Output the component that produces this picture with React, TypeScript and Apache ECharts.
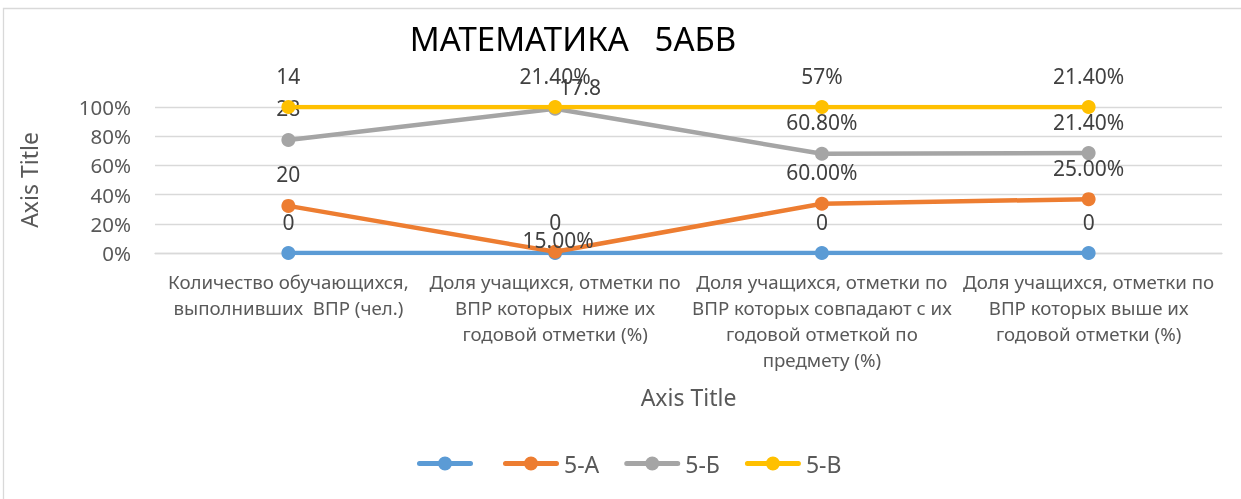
import React, { useEffect, useRef } from "react";
import * as echarts from "echarts";

const categories = [
  "Количество обучающихся,\nвыполнивших  ВПР (чел.)",
  "Доля учащихся, отметки по\nВПР которых  ниже их\nгодовой отметки (%)",
  "Доля учащихся, отметки по\nВПР которых совпадают с их\nгодовой отметкой по\nпредмету (%)",
  "Доля учащихся, отметки по\nВПР которых выше их\nгодовой отметки (%)",
];
const seriesNames = ["\u200b", "5-А", "5-Б", "5-В"];
const seriesBlank = [0, 0, 0, 0];
const series5A = [20, 0.15, 0.6, 0.25];
const series5B = [28, 17.8, 0.608, 0.214];
const series5V = [14, 0.214, 0.57, 0.214];
const labelsBlank = ["0", "0", "0", "0"];
const labels5A = ["20", "15.00%", "60.00%", "25.00%"];
const labels5B = ["28", "17.8", "60.80%", "21.40%"];
const labels5V = ["14", "21.40%", "57%", "21.40%"];
const yTicks = [0, 20, 40, 60, 80, 100];
const colors = ["#5b9bd5", "#ed7d31", "#a5a5a5", "#ffc000"];

const FONT = "'Noto Sans', sans-serif";
const LEGEND_ICON =
  "path://M2.5,4.5 H53.5 A2.5,2.5 0 0 1 53.5,9.5 H2.5 A2.5,2.5 0 0 1 2.5,4.5 Z M21,7 A7,7 0 1 1 35,7 A7,7 0 1 1 21,7 Z";

export default function App() {
  const ref = useRef<HTMLDivElement>(null);
  useEffect(() => {
    if (!ref.current) return;
    const chart = echarts.init(ref.current, undefined, { renderer: "svg" });
    const raw = [seriesBlank, series5A, series5B, series5V];
    const labels = [labelsBlank, labels5A, labels5B, labels5V];
    const totals = categories.map((_, i) => raw.reduce((s, arr) => s + arr[i], 0));
    const labelOffsets: Record<string, number[]> = {
      "1-1": [3, 20],
      "2-1": [25, 10],
    };
    const series = raw.map((arr, si) => ({
      name: seriesNames[si],
      type: "line",
      stack: "total",
      data: arr.map((v, i) => ({
        value: (v / totals[i]) * 100,
        label: {
          formatter: labels[si][i],
          offset: labelOffsets[`${si}-${i}`] || [0, 0],
        },
      })),
      symbol: "circle",
      symbolSize: 14,
      lineStyle: { width: 4.5, color: colors[si] },
      itemStyle: { color: colors[si] },
      label: {
        show: true,
        position: "top",
        distance: 14,
        color: "#404040",
        fontSize: 21,
        fontFamily: FONT,
      },
      z: 2 + si,
    }));
    chart.setOption({
      animation: false,
      color: colors,
      graphic: [
        {
          type: "rect",
          shape: { x: 3.5, y: 8.5, width: 1250, height: 500 },
          style: { fill: "none", stroke: "#d9d9d9", lineWidth: 1.3 },
          silent: true,
        },
        {
          type: "text",
          x: 573,
          y: 38,
          style: {
            text: "МАТЕМАТИКА   5АБВ",
            fontSize: 33,
            fontFamily: FONT,
            fill: "#000000",
            align: "center",
            verticalAlign: "middle",
          },
        },
      ],
      grid: { left: 155, right: 19, top: 107, bottom: 246 },
      legend: {
        data: seriesNames.map((n) => ({ name: n, icon: LEGEND_ICON })),
        bottom: 19,
        left: 412,
        itemWidth: 56,
        itemHeight: 14,
        itemGap: 25,
        textStyle: { color: "#595959", fontSize: 23, fontFamily: FONT },
      },
      xAxis: {
        type: "category",
        data: categories,
        boundaryGap: true,
        axisLine: { show: true, lineStyle: { color: "#d9d9d9", width: 1.3 } },
        axisTick: { show: false },
        axisLabel: {
          interval: 0,
          color: "#595959",
          fontSize: 18.7,
          lineHeight: 26,
          margin: 15,
          fontFamily: FONT,
        },
        name: "Axis Title",
        nameLocation: "middle",
        nameGap: 132,
        nameTextStyle: { color: "#595959", fontSize: 23, fontFamily: FONT },
      },
      yAxis: {
        type: "value",
        min: yTicks[0],
        max: yTicks[yTicks.length - 1],
        interval: 20,
        axisLine: { show: false },
        axisTick: { show: false },
        splitLine: { lineStyle: { color: "#d9d9d9", width: 1.3 } },
        axisLabel: {
          formatter: "{value}%",
          color: "#595959",
          fontSize: 20.5,
          margin: 24,
          fontFamily: FONT,
        },
        name: "Axis Title",
        nameLocation: "middle",
        nameRotate: 90,
        nameGap: 115,
        nameTextStyle: { color: "#595959", fontSize: 23, fontFamily: FONT },
      },
      series,
    });
    return () => chart.dispose();
  }, []);
  return (
    <div
      ref={ref}
      style={{ position: "fixed", left: 0, top: 0, width: 1241, height: 499 }}
    />
  );
}
